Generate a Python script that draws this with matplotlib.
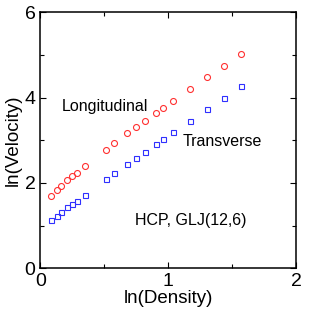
import matplotlib
matplotlib.use("Agg")
import matplotlib.pyplot as plt
from matplotlib.ticker import MultipleLocator

ln_density = [0.083, 0.130, 0.164, 0.211, 0.250, 0.284, 0.349, 0.511, 0.579, 0.675,
              0.746, 0.816, 0.902, 0.962, 1.040, 1.171, 1.306, 1.439, 1.572]
ln_vel_long = [1.70, 1.83, 1.93, 2.06, 2.16, 2.23, 2.40, 2.78, 2.93, 3.16,
               3.31, 3.46, 3.63, 3.76, 3.93, 4.20, 4.47, 4.74, 5.02]
ln_vel_trans = [1.12, 1.23, 1.32, 1.43, 1.51, 1.58, 1.72, 2.08, 2.23, 2.45,
                2.59, 2.73, 2.91, 3.03, 3.20, 3.46, 3.73, 4.00, 4.27]

plt.rcParams["font.family"] = ["Liberation Sans", "DejaVu Sans"]

fig = plt.figure(figsize=(3.10, 3.13), dpi=100)
ax = fig.add_axes([0.130, 0.143, 0.825, 0.818])

ax.plot(ln_density, ln_vel_long, "o", ms=4.3, mfc="none", mec="#ff3030", mew=0.8)
ax.plot(ln_density, ln_vel_trans, "s", ms=3.6, mfc="none", mec="#3030ff", mew=0.8)

ax.text(0.167, 3.80, "Longitudinal", fontsize=11.5, va="center")
ax.text(1.113, 2.97, "Transverse", fontsize=11.5, va="center")
ax.text(0.74, 1.11, "HCP, GLJ(12,6)", fontsize=11.5, va="center")

ax.set_xlim(0, 2)
ax.set_ylim(0, 6)
ax.xaxis.set_major_locator(MultipleLocator(1))
ax.xaxis.set_minor_locator(MultipleLocator(0.5))
ax.yaxis.set_major_locator(MultipleLocator(2))
ax.yaxis.set_minor_locator(MultipleLocator(1))
ax.tick_params(which="both", direction="in", top=True, right=True, labelsize=14, width=0.8)
ax.tick_params(which="major", length=4.5)
ax.tick_params(which="minor", length=3)
for s in ax.spines.values():
    s.set_linewidth(1.1)

ax.set_xlabel("ln(Density)", fontsize=13.5, labelpad=0)
ax.set_ylabel("ln(Velocity)", fontsize=13.5, labelpad=2)

fig.savefig("out.png", dpi=100)
